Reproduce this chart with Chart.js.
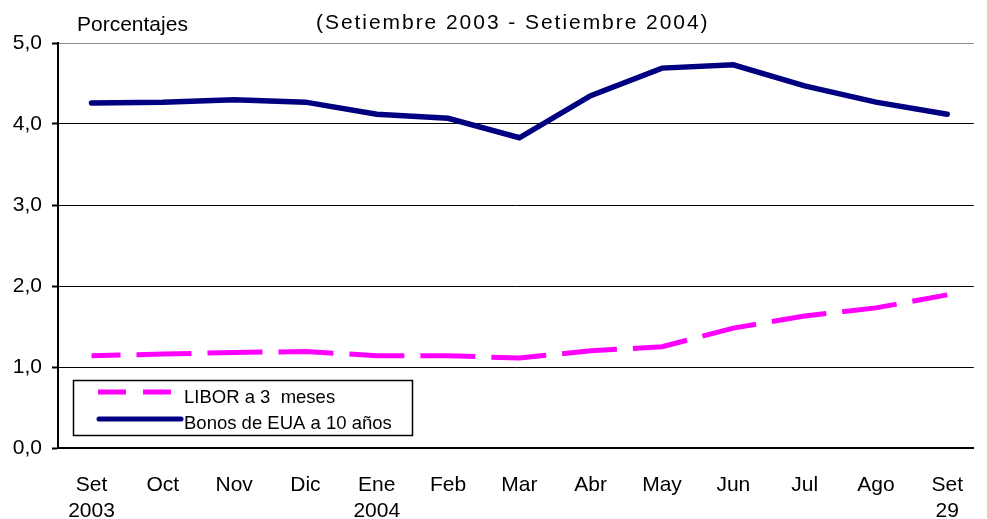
<!DOCTYPE html>
<html>
<head>
<meta charset="utf-8">
<script src="https://cdn.jsdelivr.net/npm/chart.js@4"></script>
<style>
  body { margin: 0; background: #fff; }
  canvas { display: block; }
</style>
</head>
<body>
<canvas id="chart" width="987" height="519"></canvas>
<script>
// month labels under the axis
const tickLabels = [['Set', '2003'], 'Oct', 'Nov', 'Dic', ['Ene', '2004'], 'Feb', 'Mar',
                    'Abr', 'May', 'Jun', 'Jul', 'Ago', ['Set', '29']];
// values (percent)
const libor = [1.14, 1.16, 1.18, 1.19, 1.14, 1.14, 1.11, 1.20, 1.25, 1.48, 1.63, 1.73, 1.89];
const bonos = [4.26, 4.27, 4.30, 4.27, 4.12, 4.07, 3.83, 4.35, 4.69, 4.73, 4.47, 4.27, 4.12];
const seriesNames = ['LIBOR a 3  meses', 'Bonos de EUA a 10 años'];
const yTicks = [0, 1, 2, 3, 4, 5];

const FONT = '"Liberation Sans", Arial, sans-serif';

// titles and the boxed legend inside the plot
const extras = {
    id: 'extras',
    afterDraw(chart) {
        const ctx = chart.ctx;
        ctx.save();
        ctx.fillStyle = '#000';
        ctx.textBaseline = 'alphabetic';
        ctx.textAlign = 'left';
        ctx.font = '21px ' + FONT;
        ctx.fillText('Porcentajes', 77, 31);
        ctx.letterSpacing = '1.95px';
        ctx.fillText('(Setiembre 2003 - Setiembre 2004)', 316, 29);
        ctx.letterSpacing = '0px';

        // legend box
        ctx.fillStyle = '#fff';
        ctx.fillRect(73, 380, 339, 55);
        ctx.strokeStyle = '#000';
        ctx.lineWidth = 1.5;
        ctx.strokeRect(73.5, 380.5, 339, 55);

        const ds = chart.data.datasets;
        ctx.lineWidth = 5;
        ctx.strokeStyle = ds[0].borderColor;
        ctx.setLineDash([28, 17]);
        ctx.beginPath();
        ctx.moveTo(98, 392);
        ctx.lineTo(173, 392);
        ctx.stroke();

        ctx.setLineDash([]);
        ctx.lineCap = 'round';
        ctx.strokeStyle = ds[1].borderColor;
        ctx.beginPath();
        ctx.moveTo(99, 419);
        ctx.lineTo(181, 419);
        ctx.stroke();

        ctx.fillStyle = '#000';
        ctx.font = '18.5px ' + FONT;
        ctx.fillText(ds[0].label, 184, 403);
        ctx.fillText(ds[1].label, 184, 429);
        ctx.restore();
    }
};

new Chart(document.getElementById('chart'), {
    type: 'line',
    data: {
        datasets: [{
            label: seriesNames[0],
            data: libor.map((v, i) => ({x: i, y: v})),
            borderColor: '#FF00FF',
            borderWidth: 5,
            borderDash: [55, 16],
            borderDashOffset: 26,
            pointRadius: 0,
            tension: 0
        }, {
            label: seriesNames[1],
            data: bonos.map((v, i) => ({x: i, y: v})),
            borderColor: '#000080',
            borderWidth: 5.5,
            borderCapStyle: 'round',
            pointRadius: 0,
            tension: 0
        }]
    },
    options: {
        responsive: false,
        animation: false,
        layout: { padding: { top: 43, left: 0, right: 0, bottom: 0 } },
        plugins: {
            legend: { display: false },
            tooltip: { enabled: false }
        },
        scales: {
            x: {
                type: 'linear',
                min: -0.47,
                max: 12.373,
                afterBuildTicks: (scale) => {
                    scale.ticks = tickLabels.map((_, i) => ({value: i}));
                },
                afterFit: (scale) => { scale.height = 71; },
                grid: { display: false, drawTicks: false },
                border: { display: true, color: '#000', width: 2 },
                ticks: {
                    autoSkip: false,
                    maxRotation: 0,
                    padding: 24,
                    color: '#000',
                    font: { family: FONT, size: 21, lineHeight: 1.24 },
                    callback: (v) => tickLabels[v]
                }
            },
            y: {
                min: 0,
                max: 5,
                afterBuildTicks: (scale) => {
                    scale.ticks = yTicks.map(v => ({value: v}));
                },
                afterFit: (scale) => { scale.width = 58; },
                grid: {
                    color: (c) => c.tick && c.tick.value === 5 ? '#8c8c8c' : '#000',
                    lineWidth: 1,
                    borderDash: [2, 2],
                    drawTicks: true,
                    tickLength: 6,
                    tickColor: '#000',
                    tickWidth: 2,
                    tickBorderDash: []
                },
                border: { display: true, color: '#000', width: 2 },
                ticks: {
                    padding: 10,
                    color: '#000',
                    font: { family: FONT, size: 21 },
                    callback: (v) => v.toFixed(1).replace('.', ',')
                }
            }
        }
    },
    plugins: [extras]
});
</script>
</body>
</html>
